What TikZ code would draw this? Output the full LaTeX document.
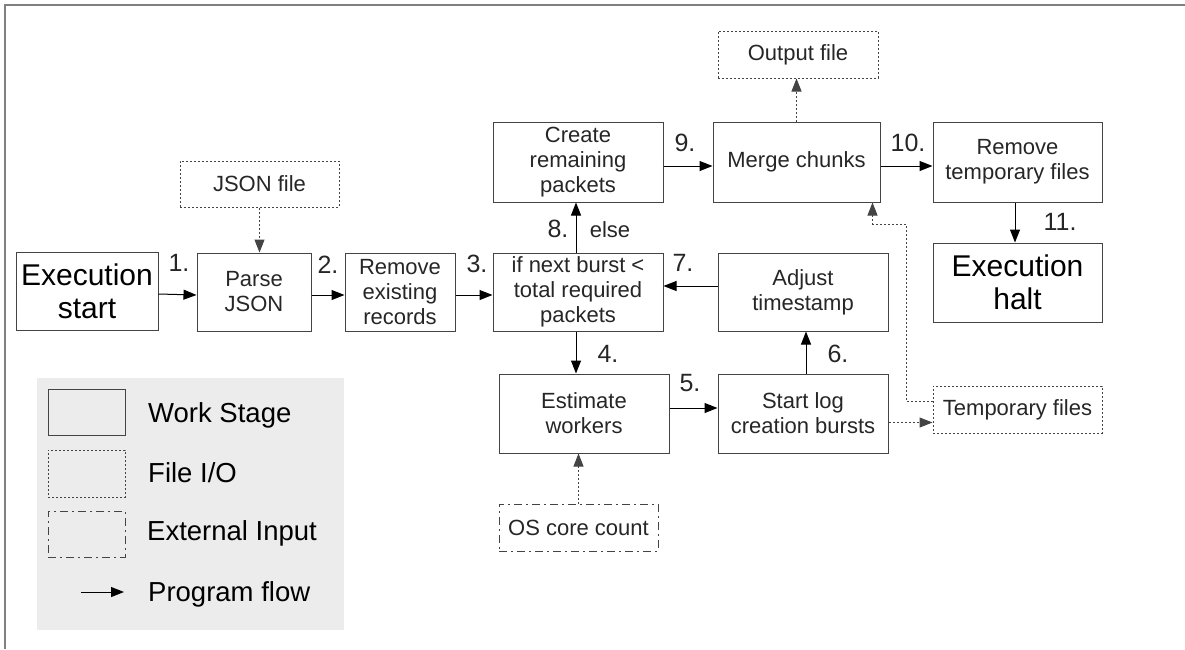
\documentclass[tikz,border=0pt]{standalone}
\usepackage{fontspec}
\setmainfont{Liberation Sans}
\usetikzlibrary{arrows.meta}
\definecolor{bordc}{HTML}{444444}
\definecolor{txtc}{HTML}{262626}
\definecolor{legbg}{HTML}{ECECEC}
\begin{document}
\begin{tikzpicture}[x=1pt,y=-1pt,
  stage/.style={draw=bordc, line width=1pt, rectangle, align=center, text=txtc,
    font=\fontsize{22}{25}\selectfont, inner sep=0pt},
  bigstage/.style={stage, text=black, font=\fontsize{30}{33}\selectfont},
  fileio/.style={stage, dash pattern=on 2pt off 2pt},
  extin/.style={stage, dash pattern=on 8pt off 4pt on 2pt off 4pt},
  flow/.style={-{Triangle[length=13pt,width=10pt]}, line width=1pt, draw=black},
  ioflow/.style={flow, draw=bordc, dash pattern=on 2pt off 2pt},
  lbl/.style={font=\fontsize{25}{28}\selectfont, text=txtc, inner sep=0pt},
  lbls/.style={font=\fontsize{22}{25}\selectfont, text=txtc, inner sep=0pt},
  legtxt/.style={font=\fontsize{27.5}{30}\selectfont, text=black, inner sep=0pt, anchor=west},
]
\useasboundingbox (0,0) rectangle (1185,649);
\draw[gray, line width=1.2pt] (5,649) -- (5,5) -- (1185,5);

% nodes
\node[bigstage, minimum width=142, minimum height=78] (start) at (87,291) {Execution\\start};
\node[stage, minimum width=114, minimum height=78] (parse) at (254,292) {Parse\\JSON};
\node[fileio, minimum width=159, minimum height=46] (json) at (259.5,184) {JSON file};
\node[stage, minimum width=110, minimum height=78] (remove) at (400,292) {Remove\\existing\\records};
\node[stage, minimum width=170, minimum height=78] (ifn) at (578,292) {if next burst <\\total required\\packets};
\node[stage, minimum width=170, minimum height=80] (create) at (578,162) {Create\\remaining\\packets};
\node[stage, minimum width=167, minimum height=80] (merge) at (796.5,162) {Merge chunks};
\node[fileio, minimum width=160, minimum height=47] (output) at (798,54.5) {Output file};
\node[stage, minimum width=169, minimum height=80] (remtmp) at (1017.5,162) {Remove\\temporary files};
\node[bigstage, minimum width=169, minimum height=79] (halt) at (1017.5,282.5) {Execution\\halt};
\node[stage, minimum width=170, minimum height=78] (adjust) at (803,292) {Adjust\\timestamp};
\node[stage, minimum width=170, minimum height=79] (estimate) at (584,413.5) {Estimate\\workers};
\node[stage, minimum width=170, minimum height=79] (startlog) at (803,413.5) {Start log\\creation bursts};
\node[fileio, minimum width=169, minimum height=47] (tmp) at (1017.5,409.5) {Temporary files};
\node[extin, minimum width=159, minimum height=47] (os) at (578.5,527.5) {OS core count};

% connectors
\draw[flow] ([yshift=-3pt]start.east) -- ([yshift=-3pt]parse.west);
\draw[flow] ([yshift=-3pt]parse.east) -- ([yshift=-3pt]remove.west);
\draw[flow] ([yshift=-3pt]remove.east) -- ([yshift=-3pt]ifn.west);
\draw[ioflow] (json.south) -- (json.south |- parse.north);
\draw[flow] ([yshift=6pt]adjust.west) -- ([yshift=6pt]ifn.east);
\draw[flow] ([xshift=-2pt]ifn.north) -- ([xshift=-2pt]create.south);
\draw[flow] ([yshift=-4pt]create.east) -- ([yshift=-4pt]merge.west);
\draw[ioflow] (merge.north) -- (merge.north |- output.south);
\draw[flow] ([yshift=-4pt]merge.east) -- ([yshift=-4pt]remtmp.west);
\draw[flow] ([xshift=-2.5pt]remtmp.south) -- ([xshift=-2.5pt]remtmp.south |- halt.north);
\draw[flow] ([xshift=-2pt]ifn.south) -- ([xshift=-2pt]ifn.south |- estimate.north);
\draw[flow] ([yshift=5.5pt]estimate.east) -- ([yshift=5.5pt]estimate.east -| startlog.west);
\draw[flow] ([xshift=3pt]startlog.north) -- ([xshift=3pt]adjust.south);
\draw[ioflow] ([yshift=-9pt]startlog.east) -- ([yshift=-9pt]startlog.east -| tmp.west);
\coordinate (bend) at (906,224);
\draw[ioflow] ([yshift=8.5pt]tmp.west) -| (bend) -| ([xshift=76pt]merge.south);
\draw[ioflow] (os.north) -- (os.north |- estimate.south);

% step labels
\node[lbl] (l1) at (179,263) {1.};
\node[lbl] (l2) at (328,265) {2.};
\node[lbl] (l3) at (477,264) {3.};
\node[lbl] (l4) at (608,354) {4.};
\node[lbl] (l5) at (690,383) {5.};
\node[lbl] (l6) at (838,354) {6.};
\node[lbl] (l7) at (683,263) {7.};
\node[lbl] (l8) at (558,229) {8.};
\node[lbls] (lelse) at (610,230) {else};
\node[lbl] (l9) at (685,143) {9.};
\node[lbl] (l10) at (908,143) {10.};
\node[lbl] (l11) at (1060,222) {11.};

% legend
\fill[legbg] (37,378) rectangle (344,630);
\node[stage, minimum width=77, minimum height=46] (kstage) at (86.5,412) {};
\node[fileio, minimum width=77, minimum height=47] (kfile) at (86.5,473.5) {};
\node[extin, minimum width=77, minimum height=46] (kext) at (86.5,534) {};
\coordinate (kfa) at (81,592);
\coordinate (kfb) at (124,592);
\draw[flow] (kfa) -- (kfb);
\node[legtxt] (tstage) at (148,415) {Work Stage};
\node[legtxt] (tfile) at (148,473) {File I/O};
\node[legtxt] (text) at (147,533) {External Input};
\node[legtxt] (tflow) at (148,594) {Program flow};
\end{tikzpicture}
\end{document}
